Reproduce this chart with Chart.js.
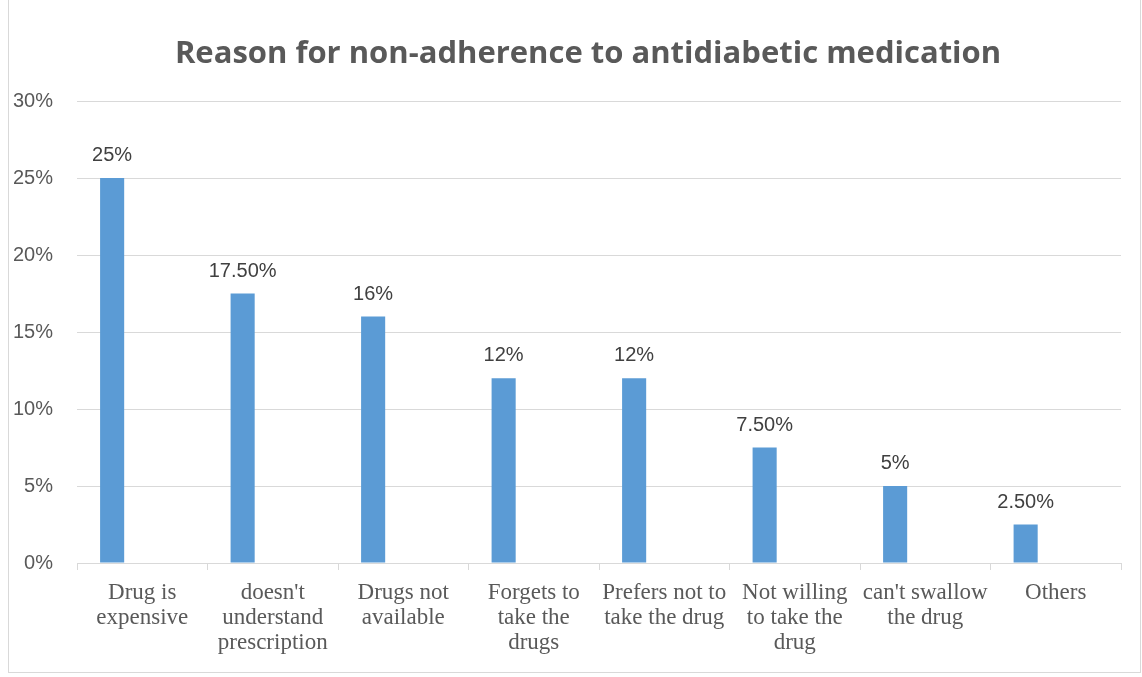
<!DOCTYPE html>
<html>
<head>
<meta charset="utf-8">
<style>
  html, body { margin: 0; padding: 0; background: #fff; }
  #wrap { position: relative; width: 1142px; height: 677px; }
  #frame { position: absolute; left: 8px; top: -1px; width: 1131px; height: 672px; border: 1px solid #d9d9d9; pointer-events: none; }
</style>
</head>
<body>
<div id="wrap">
  <canvas id="chart" width="1142" height="677"></canvas>
  <div id="frame"></div>
</div>
<script src="https://cdn.jsdelivr.net/npm/chart.js"></script>
<script>
  // categories (split into lines as in the original)
  const categories = [
    ["Drug is", "expensive"],
    ["doesn't", "understand", "prescription"],
    ["Drugs not", "available"],
    ["Forgets to", "take the", "drugs"],
    ["Prefers not to", "take the drug"],
    ["Not willing", "to take the", "drug"],
    ["can't swallow", "the drug"],
    ["Others"]
  ];
  const percentValues = [25, 17.5, 16, 12, 12, 7.5, 5, 2.5];
  const valueLabels = ["25%", "17.50%", "16%", "12%", "12%", "7.50%", "5%", "2.50%"];
  const yTicks = [0, 5, 10, 15, 20, 25, 30];
  const chartTitle = "Reason for non-adherence to antidiabetic medication";

  // empty second series, like the blank slot next to each bar in the original
  const emptySeries = categories.map(() => null);

  const barLabels = {
    id: "barLabels",
    afterDatasetsDraw(chart) {
      const ctx = chart.ctx;
      const meta = chart.getDatasetMeta(0);
      ctx.save();
      ctx.font = "20px 'Liberation Sans', Arial, sans-serif";
      ctx.fillStyle = "#404040";
      ctx.textAlign = "center";
      ctx.textBaseline = "alphabetic";
      meta.data.forEach((bar, i) => {
        ctx.fillText(valueLabels[i], bar.x, bar.y - 17);
      });
      ctx.restore();
    }
  };

  // title drawn by hand, sitting a bit right of the canvas center like the original
  const topTitle = {
    id: "topTitle",
    afterDraw(chart) {
      const ctx = chart.ctx;
      ctx.save();
      ctx.font = "bold 31px 'Open Sans', Lato, sans-serif";
      ctx.fillStyle = "#595959";
      ctx.textAlign = "center";
      ctx.textBaseline = "alphabetic";
      ctx.fillText(chartTitle, 588, 63);
      ctx.restore();
    }
  };

  const ctx = document.getElementById("chart").getContext("2d");
  const chart = new Chart(ctx, {
    type: "bar",
    data: {
      labels: categories,
      datasets: [
        {
          label: "Reason",
          data: percentValues,
          backgroundColor: "#5b9bd5",
          categoryPercentage: 0.923,
          barPercentage: 0.4
        },
        {
          label: "",
          data: emptySeries,
          backgroundColor: "#ed7d31",
          categoryPercentage: 0.923,
          barPercentage: 0.4
        }
      ]
    },
    options: {
      responsive: false,
      animation: false,
      layout: { padding: { left: 0, right: 21, top: 101, bottom: 0 } },
      plugins: {
        legend: { display: false },
        tooltip: { enabled: false },
        title: { display: false }
      },
      scales: {
        x: {
          offset: true,
          grid: {
            offset: true,
            drawOnChartArea: false,
            drawTicks: true,
            tickLength: 7,
            color: "#d9d9d9"
          },
          border: { display: true, color: "#d9d9d9" },
          ticks: {
            autoSkip: false,
            maxRotation: 0,
            minRotation: 0,
            padding: 11,
            color: "#595959",
            font: { family: "'Liberation Serif', 'Times New Roman', serif", size: 23, lineHeight: 1.08 }
          },
          afterFit(scale) { scale.height = 114; }
        },
        y: {
          min: 0,
          max: 30,
          afterBuildTicks(scale) { scale.ticks = yTicks.map(v => ({ value: v })); },
          grid: { color: "#d9d9d9", drawTicks: false },
          border: { display: false },
          ticks: {
            padding: 24,
            color: "#595959",
            font: { family: "'Liberation Sans', Arial, sans-serif", size: 20 },
            callback: v => v + "%"
          },
          afterFit(scale) { scale.width = 77; }
        }
      }
    },
    plugins: [barLabels, topTitle]
  });
</script>
</body>
</html>
